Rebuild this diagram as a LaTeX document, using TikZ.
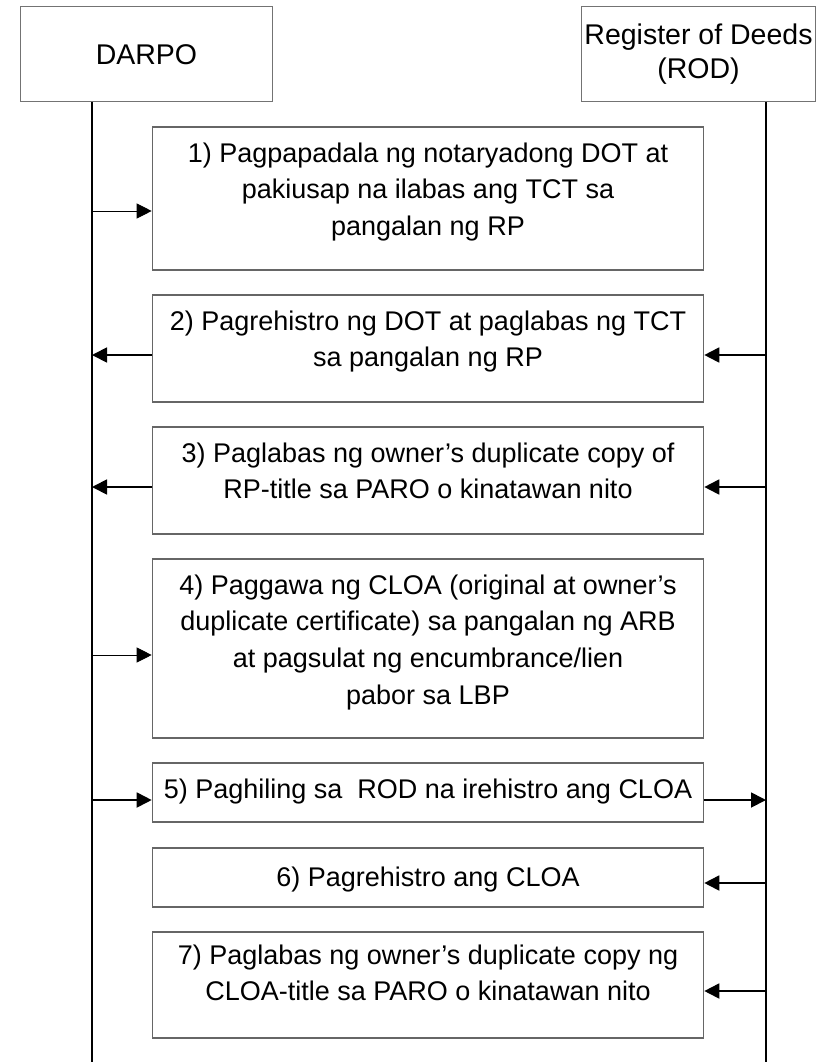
\documentclass[tikz,border=0pt]{standalone}
\usepackage{fontspec}
\setmainfont{Liberation Sans}
\usetikzlibrary{arrows.meta, positioning}

\begin{document}
\begin{tikzpicture}[x=1pt,y=-1pt,
   actor/.style={draw=black!55, line width=1pt, align=center, font=\fontsize{28.5}{34}\selectfont},
   msgbox/.style={draw=black!60, line width=1.1pt, minimum width=551.5pt},
   msgtext/.style={anchor=north, align=center, inner sep=0pt, font=\fontsize{27}{36.7}\selectfont},
   life/.style={line width=1.3pt},
   req/.style={-{Triangle[length=15pt,width=15pt]}, line width=0.9pt},
   ans/.style={-{Triangle[length=15pt,width=15pt]}, line width=1.8pt}]
   \useasboundingbox (0,0) rectangle (825,1062);
   % lanes
   \node[actor, minimum width=252pt, minimum height=95pt] (darpo) at (146.5,54.5) {DARPO};
   \node[actor, minimum width=229pt, minimum height=95pt] (rod) at (698.5,54.5) {Register of Deeds\\(ROD)};
   \coordinate (dtop) at (92,102);
   \coordinate (dend) at (92,1062);
   \coordinate (rtop) at (766,102);
   \coordinate (rend) at (766,1062);
   \draw[life] (dtop) -- (dend);
   \draw[life] (rtop) -- (rend);
   % steps
   \node[msgbox, minimum height=143pt] (m1) at (428,198.5) {};
   \node[msgtext] (t1) at ([yshift=-16pt]m1.north) {1) Pagpapadala ng notaryadong DOT at\\pakiusap na ilabas ang TCT sa\\pangalan ng RP};
   \node[msgbox, minimum height=107pt] (m2) at (428,348.5) {};
   \node[msgtext] (t2) at ([yshift=-16pt]m2.north) {2) Pagrehistro ng DOT at paglabas ng TCT\\sa pangalan ng RP};
   \node[msgbox, minimum height=107pt] (m3) at (428,480.5) {};
   \node[msgtext] (t3) at ([yshift=-16pt]m3.north) {3) Paglabas ng owner’s duplicate copy of\\RP-title sa PARO o kinatawan nito};
   \node[msgbox, minimum height=179pt] (m4) at (428,648.5) {};
   \node[msgtext] (t4) at ([yshift=-16pt]m4.north) {4) Paggawa ng CLOA (original at owner’s\\duplicate certificate) sa pangalan ng ARB\\at pagsulat ng encumbrance/lien\\pabor sa LBP};
   \node[msgbox, minimum height=59pt] (m5) at (428,792.5) {};
   \node[msgtext] (t5) at ([yshift=-16pt]m5.north) {5) Paghiling sa\ \ ROD na irehistro ang CLOA};
   \node[msgbox, minimum height=59pt] (m6) at (428,877.5) {};
   \node[msgtext] (t6) at ([yshift=-19pt]m6.north) {6) Pagrehistro ang CLOA};
   \node[msgbox, minimum height=106pt] (m7) at (428,985) {};
   \node[msgtext] (t7) at ([yshift=-13pt]m7.north) {7) Paglabas ng owner’s duplicate copy ng\\CLOA-title sa PARO o kinatawan nito};
   % arrow ends on the lanes
   \coordinate (d1) at (92,211);
   \coordinate (d2) at (92,355);
   \coordinate (r2) at (766,355);
   \coordinate (d3) at (92,487);
   \coordinate (r3) at (766,487);
   \coordinate (d4) at (92,655);
   \coordinate (d5) at (92,800);
   \coordinate (r5) at (766,800);
   \coordinate (r6) at (766,883);
   \coordinate (r7) at (766,991);
   \draw[req] (d1) -- (d1 -| m1.west);
   \draw[ans] (r2) -- (r2 -| m2.east);
   \draw[ans] (d2 -| m2.west) -- (d2);
   \draw[ans] (r3) -- (r3 -| m3.east);
   \draw[ans] (d3 -| m3.west) -- (d3);
   \draw[req] (d4) -- (d4 -| m4.west);
   \draw[ans] (d5) -- (d5 -| m5.west);
   \draw[ans] (r5 -| m5.east) -- (r5);
   \draw[ans] (r6) -- (r6 -| m6.east);
   \draw[ans] (r7) -- (r7 -| m7.east);
\end{tikzpicture}
\end{document}
